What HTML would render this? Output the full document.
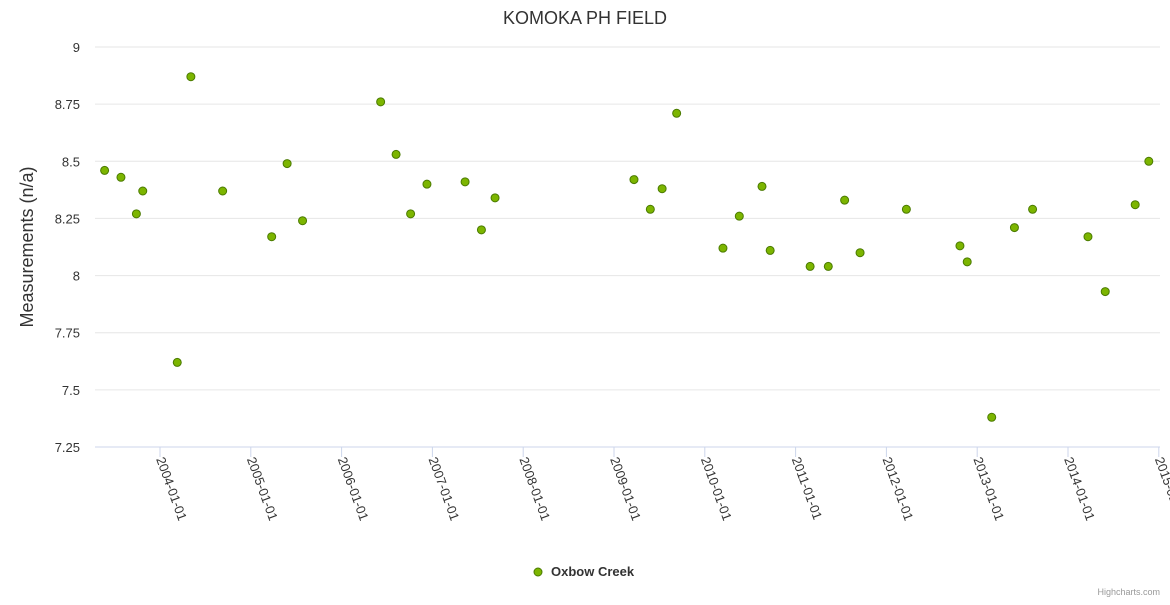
<!DOCTYPE html>
<html><head><meta charset="utf-8"><style>
body{margin:0;background:#fff;}
svg text{font-family:"Liberation Sans",sans-serif;}
</style></head><body>
<svg id="chart" width="1170" height="600">
<text x="585" y="24" text-anchor="middle" font-size="18" fill="#333">KOMOKA PH FIELD</text>
<text transform="translate(33,247) rotate(-90)" text-anchor="middle" font-size="18" fill="#333">Measurements (n/a)</text>
<g id="grid"></g><g id="xaxis"></g><g id="pts"></g>
<g>
<circle cx="538" cy="572" r="4" fill="#7cb500" stroke="#4a7a00" stroke-width="1"/>
<text x="551" y="576" font-size="13" font-weight="bold" fill="#333">Oxbow Creek</text></g>
<text x="1160" y="595" text-anchor="end" font-size="9" fill="#999">Highcharts.com</text>
</svg>
<script>
const yTicks=[7.25,7.5,7.75,8,8.25,8.5,8.75,9];
const yTickLabels=["7.25","7.5","7.75","8","8.25","8.5","8.75","9"];
const xTicks=[2004,2005,2006,2007,2008,2009,2010,2011,2012,2013,2014,2015];
const dates=[2003.39,2003.57,2003.74,2003.81,2004.19,2004.34,2004.69,2005.23,2005.40,2005.57,2006.43,2006.60,2006.76,2006.94,2007.36,2007.54,2007.69,2009.22,2009.40,2009.53,2009.69,2010.20,2010.38,2010.63,2010.72,2011.16,2011.36,2011.54,2011.71,2012.22,2012.81,2012.89,2013.16,2013.41,2013.61,2014.22,2014.41,2014.74,2014.89];
const values=[8.46,8.43,8.27,8.37,7.62,8.87,8.37,8.17,8.49,8.24,8.76,8.53,8.27,8.40,8.41,8.20,8.34,8.42,8.29,8.38,8.71,8.12,8.26,8.39,8.11,8.04,8.04,8.33,8.10,8.29,8.13,8.06,7.38,8.21,8.29,8.17,7.93,8.31,8.50];
const NS="http://www.w3.org/2000/svg";
const X0=95,X1=1160,Y0=447,Y1=47;
const xs=v=>160+(v-2004)*90.8;
const ys=v=>Y0-(v-7.25)/(9-7.25)*(Y0-Y1);
function mk(t,a,p){const e=document.createElementNS(NS,t);for(const k in a)e.setAttribute(k,a[k]);p.appendChild(e);return e;}
const g=document.getElementById('grid');
yTicks.forEach((v,i)=>{
 const l=mk('line',{x1:X0,x2:X1,y1:ys(v),y2:ys(v),stroke:i==0?'#ccd6eb':'#e6e6e6','stroke-width':1},g);
 
 
 const t=mk('text',{x:80,y:ys(v)+5,'text-anchor':'end','font-size':13,fill:'#333'},g);
 t.textContent=yTickLabels[i];
 
 
});
const xa=document.getElementById('xaxis');
xTicks.forEach(v=>{
 const x=xs(v);
 const l=mk('line',{x1:x,x2:x,y1:Y0,y2:Y0+10,stroke:'#ccd6eb'},xa);
 
 
 const t=mk('text',{transform:`translate(${x-4},${Y0+12}) rotate(70)`,'font-size':13,fill:'#333'},xa);
 t.textContent=v+'-01-01';
 
 
});
const p=document.getElementById('pts');
dates.forEach((d,i)=>{
 const c=mk('circle',{cx:xs(d),cy:ys(values[i]),r:4,fill:'#7cb500',stroke:'#4a7a00','stroke-width':1},p);
 
 
});
</script>
</body></html>
